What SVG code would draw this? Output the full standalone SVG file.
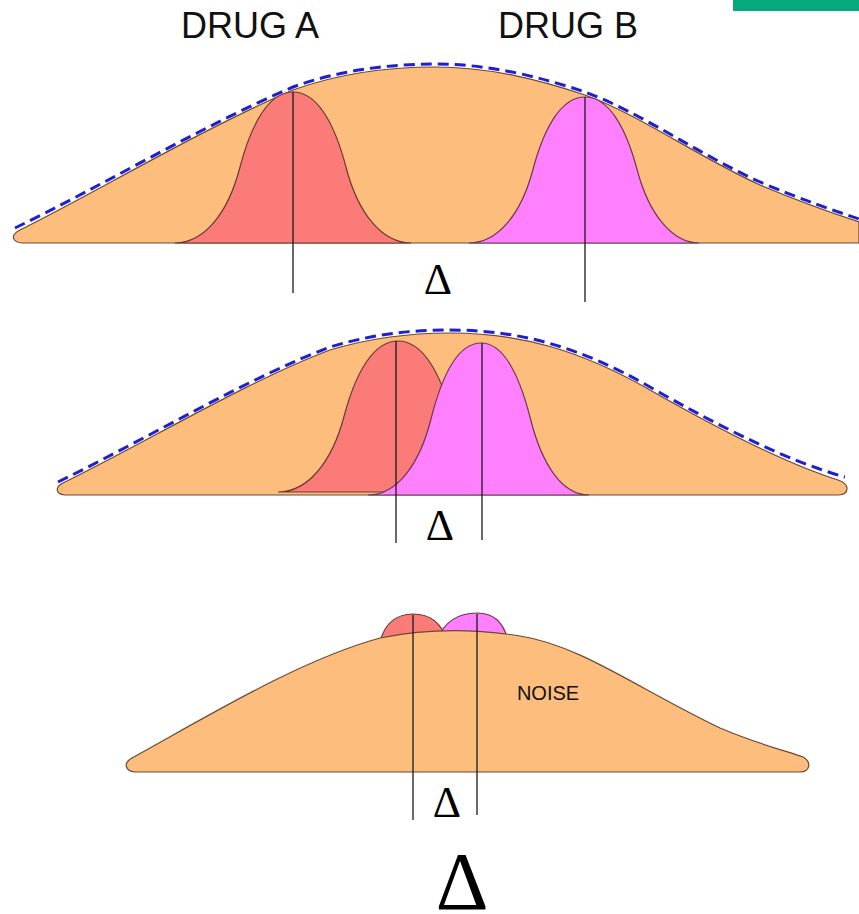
<svg xmlns="http://www.w3.org/2000/svg" width="859" height="914" viewBox="0 0 859 914">
<style>
.noise{fill:#FDBD7D;stroke:#6B4A35;stroke-width:1.2}
.a{fill:#FA7B78;stroke:#6B3A35;stroke-width:1.2}
.b{fill:#FF80FF;stroke:#6B3A50;stroke-width:1.2}
.env{fill:none;stroke:#1F1FD0;stroke-width:3;stroke-dasharray:11 6}
.mark{stroke:#1A1A1A;stroke-width:1.3;fill:none}
.lbl{font-family:"Liberation Sans",Arial,sans-serif;fill:#111}
.d{font-family:"Liberation Serif","Times New Roman",serif;fill:#000;text-anchor:middle}
</style>
<rect x="0" y="0" width="859" height="914" fill="#fff"/>
<rect x="733" y="0" width="126" height="11" fill="#07A87A"/>
<text class="lbl" x="250" y="38" font-size="36" text-anchor="middle">DRUG A</text>
<text class="lbl" x="568" y="38" font-size="36" text-anchor="middle">DRUG B</text>
<g id="panel1">
<path class="noise" d="M22,243 C12,242 10,235 20,230 C100,190 200,130 293,90 C340,73 390,67 435,67 C490,67 540,80 585,95 C640,115 700,158 760,185 C800,202 835,214 859,222 L859,243 Z"/>
<path id="drugA1" class="a" d="M175,243 C204.5,243 228.1,212.8 239.9,167.5 C251.7,122.2 269.4,92 293,92 C316.6,92 334.3,122.2 346.1,167.5 C357.9,212.8 381.5,243 411,243 Z"/>
<path id="drugB1" class="b" d="M469,243 C498,243 521.2,213.8 532.8,170 C544.4,126.2 561.8,97 585,97 C608.2,97 625.6,126.2 637.2,170 C648.8,213.8 672,243 699,243 Z"/>
<path class="env" d="M15,228 C100,187 200,127 293,87 C340,70 390,64 435,64 C490,64 540,77 585,92 C640,112 700,155 760,182 C800,199 835,211 859,219"/>
<line class="mark" x1="293" y1="92" x2="293" y2="293"/>
<line class="mark" x1="585" y1="97" x2="585" y2="302"/>
<text class="d" x="438" y="294" font-size="44">Δ</text>
</g>
<g id="panel2">
<path class="noise" d="M65,495 C55,494 55,487 63,483 C150,440 250,380 330,350 C380,335 420,333 450,333 C520,333 580,350 650,390 C720,430 790,465 838,480 C850,484 850,494 838,495 Z"/>
<path id="drugA2" class="a" d="M278,492 C308,492 332,461.8 344,416.5 C356,371.2 374,341 398,341 C422,341 440,371.2 452,416.5 C464,461.8 488,492 518,492 Z"/>
<path id="drugB2" class="b" d="M368,495 C397,495 419.5,464.6 431,419 C442.5,373.4 459,343 481,343 C503,343 519,373.4 530.5,419 C542,464.6 562,495 589,495 Z"/>
<path class="env" d="M58,482 C150,437 250,377 330,347 C380,332 420,330 450,330 C520,330 580,347 650,387 C720,427 790,462 845,477"/>
<line class="mark" x1="396" y1="341" x2="396" y2="543"/>
<line class="mark" x1="482" y1="343" x2="482" y2="540"/>
<text class="d" x="440" y="540" font-size="44">Δ</text>
</g>
<g id="panel3">
<path id="drugA3" class="a" d="M380,642 C385,622 398,614 413,614 C430,614 441,622 447,640 Z"/>
<path id="drugB3" class="b" d="M437,640 C445,620 460,613 477,613 C494,613 503,622 508,640 Z"/>
<path class="noise" d="M135,772 C125,771 123,763 132,758 C210,715 300,660 380,638 C420,630 470,628 520,636 C580,645 640,690 720,728 C760,745 790,752 803,757 C812,762 810,772 800,772 Z"/>
<line class="mark" x1="413" y1="615" x2="413" y2="820"/>
<line class="mark" x1="477" y1="614" x2="477" y2="815"/>
<text class="lbl" x="548" y="700" font-size="20" text-anchor="middle">NOISE</text>
<text class="d" x="447" y="817" font-size="44">Δ</text>
</g>
<text class="d" x="462" y="909" font-size="82">Δ</text>
</svg>
